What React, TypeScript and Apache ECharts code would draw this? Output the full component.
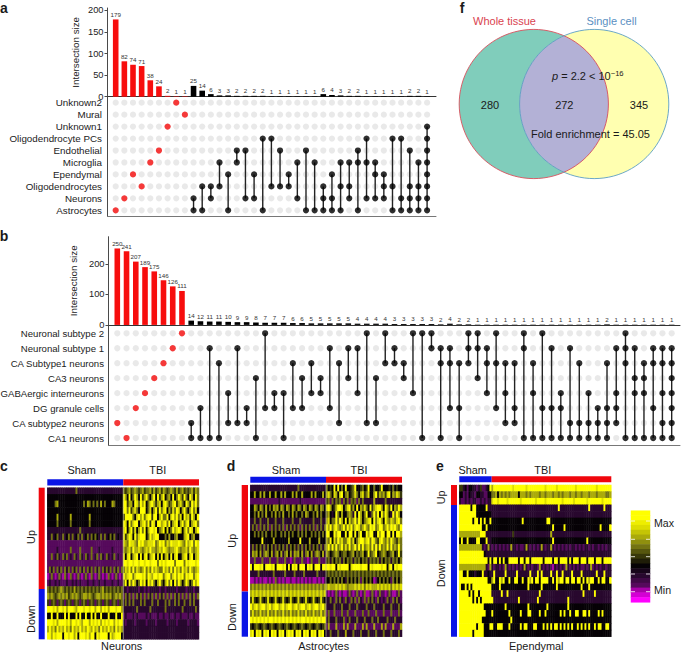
import React, { useEffect, useRef } from "react";
import * as echarts from "echarts";

const FONT = "Liberation Sans";

// ---------- panel a ----------
const rowsA = ["Astrocytes", "Neurons", "Oligodendrocytes", "Ependymal", "Microglia", "Endothelial", "Oligodendrocyte PCs", "Unknown1", "Mural", "Unknown2"];
const sizesA = [179, 82, 74, 71, 38, 24, 2, 1, 1, 25, 14, 6, 3, 3, 2, 2, 2, 2, 1, 1, 1, 1, 1, 1, 6, 4, 3, 2, 2, 1, 1, 1, 1, 1, 2, 2, 1];
const setsA = [[0], [1], [3], [2], [4], [5], [7], [9], [8], [1, 0], [2, 0], [2, 1], [4, 2], [3, 0], [5, 4], [5, 1], [3, 1], [6, 0], [6, 2], [5, 2], [3, 2], [4, 1], [5, 0], [4, 0], [2, 1, 0], [3, 1, 0], [4, 2, 0], [4, 2, 1], [5, 4, 0], [6, 4, 1], [4, 3, 1], [3, 2, 1], [6, 2, 0], [6, 1, 0], [5, 2, 1, 0], [4, 2, 1, 0], [7, 6, 5, 4, 3, 2, 1, 0]];
const singlesA = 9;
const ticksA = [0, 50, 100, 150, 200];

// ---------- panel b ----------
const rowsB = ["CA1 neurons", "CA subtype2 neurons", "DG granule cells", "GABAergic interneurons", "CA3 neurons", "CA Subtype1 neurons", "Neuronal subtype 1", "Neuronal subtype 2"];
const sizesB = [250, 241, 207, 189, 175, 146, 126, 111, 14, 12, 11, 11, 10, 9, 9, 8, 7, 7, 7, 6, 6, 5, 5, 5, 5, 5, 4, 4, 4, 4, 3, 3, 3, 3, 3, 2, 4, 2, 2, 1, 1, 1, 1, 1, 1, 1, 1, 1, 1, 1, 1, 1, 1, 2, 1, 1, 1, 1, 1, 1, 1];
const setsB = [[1], [0], [2], [3], [4], [5], [6], [7], [1, 0], [2, 0], [6, 0], [5, 0], [3, 1], [6, 1], [2, 1], [4, 0], [7, 2], [3, 2], [3, 0], [5, 2], [4, 2], [5, 3], [4, 3], [6, 2], [5, 1], [6, 4], [6, 3], [7, 1], [4, 1], [7, 5], [6, 5], [5, 4], [7, 3], [7, 0], [7, 6], [6, 5, 0], [6, 5, 2], [5, 2, 0], [7, 6, 5], [7, 6, 4], [6, 5, 3], [7, 5, 2], [5, 3, 1], [5, 2, 1], [7, 6, 0], [5, 3, 0], [7, 2, 0], [6, 2, 0], [3, 2, 0], [6, 1, 0], [5, 1, 0], [3, 1, 0], [2, 1, 0], [5, 2, 1, 0], [6, 3, 2, 1], [7, 6, 5, 0], [6, 4, 3, 0], [5, 4, 3, 0], [6, 5, 2, 0], [6, 5, 3, 1, 0], [6, 5, 4, 3, 2, 1, 0]];
const singlesB = 8;
const ticksB = [0, 100, 200];

// ---------- heat maps: one digit per cell, 0 = Min ... 4 = black ... 9 = Max ----------
const heatColors = ["#ff00ff", "#a800a8", "#560a5c", "#28082e", "#060206", "#38380a", "#737312", "#aaaa0a", "#dddd00", "#ffff00"];
const neuronsRows = [
  "3333333333 3333363333 3333333333 3333333333 6567567656 7566757567 5765676575 6756567576",
  "4444444444 4444444444 4444444444 4444444444 9749469749 5796479495 7946749469 7596497496",
  "4444674444 4444444446 4764646474 6444764444 9957749869 7946897578 4897568957 8649759796",
  "4444444444 4444444444 4444444444 4444444444 9969578649 9946847959 6894758698 4796479684",
  "4444474444 4474444444 4474444444 4444444444 5999964897 9689959947 9669489796 8497859749",
  "4444464444 4464444444 4464444444 4444444444 9849689947 8969598499 7896947894 7968947896",
  "3333333333 3333333633 3333333333 3333333333 8947958479 6947998946 7948469789 8479698479",
  "3363463363 4636346363 4636464363 6346463433 9579849689 9946978994 4464744674 4478946744",
  "2222222222 2222222222 2222222222 2222222222 8769887698 9778889679 8968798889 8769789698",
  "2222232222 2262222622 2226222322 2222322222 7678697787 6787977678 7987677897 6778697678",
  "2262363263 6232632632 6326236263 2632362322 9489478949 4894789484 9478494894 4789489478",
  "2222222222 2222222222 2222222222 2222222222 9989989989 9899899969 8989999699 9969899989",
  "2636263626 3626362636 2636263626 3636263626 6879696876 7968697876 6978696978 6978697678",
  "1262126216 2162126212 6216212621 2162126212 9789968999 8969879989 9689968979 8969899689",
  "2322323222 3223232322 2322322322 3222322322 6949697469 7949796479 6479694969 7469746979",
  "6565656765 6565756565 6565656567 5656565656 3323333323 3232333332 3323333323 3332333233",
  "7676567676 7567676567 7676567767 6767567676 2636262636 2626362626 3626262636 2626263626",
  "5256525652 5652565256 5256525652 5652565256 3636363336 3633363363 3363633636 3363363633",
  "9998979989 7999879998 9989979979 8979998997 3333333633 3333633333 3363333333 3633333363",
  "4494494449 4944494944 9449494494 4494449449 2322232322 2232322232 2322322322 3222322322",
  "9998979999 8979989879 9979898979 8989979899 3233332333 3323333233 3332333323 3333233332",
  "7978697879 7869787978 7987978697 8797869787 3333333333 3333333333 3333333333 3333333333",
  "9979899949 9899794999 8979949899 9949789994 3333333333 3333333333 3333333333 3333333333",
];
const astrocytesRows = [
  "3333333333 3333333333 3333363333 3333333333 6454949464 9445694456 4594464459 4445464544",
  "4474474744 7447447474 4474744744 4474744474 7864874894 6745686478 5684479576 7589476875",
  "2222222222 2222232222 2222223222 2222222222 5626365626 3626562636 3333373333 3633333333",
  "4476476474 6476747647 6476476476 4764764764 8974579984 6895749476 8649578997 4975947697",
  "4464746474 4647464744 6474644647 6446474644 6743496474 4676394974 6943696949 6974396974",
  "3363363336 3336333633 3363336333 3336333633 7846696974 9486796974 6789496897 4976876896",
  "3636263636 2636363626 3636362636 3636263636 9796897679 6979689867 9769896799 6797989769",
  "4464646464 4646446464 6464464646 4464646464 9944979944 9499494794 4979944979 9499494997",
  "4444449444 4474444444 7444449444 4744447444 7694869786 6896846899 7896986589 7686976576",
  "3636463636 4636364636 3646363636 4636463636 7969696796 8696796969 6786969696 7696967696",
  "3767473676 4736747367 4737674736 7473676473 7645676456 6456746567 4595679456 7645674595",
  "2262226222 6222622262 2126222622 1262226222 5636465636 4656365646 5636565636 4656365646",
  "9499989499 9894999894 9498949994 9894999499 9989949899 9948999989 9949899998 9948949899",
  "3333633333 3363333363 3336333363 3333363333 5656565656 5656565656 5656565656 5656565656",
  "1121212112 1216212121 1211212121 2121121212 4464646464 3646464626 4646412464 6464264646",
  "6767676767 6767676767 6767676767 6767676767 7877787878 7677787878 6878777878 7878687878",
  "7878787878 7878787878 7878787878 7878787878 2121262121 1262126212 6112621262 2126211262",
  "5854585458 5458545854 5854585458 5458545854 3363263632 6326362632 6263632632 3263263632",
  "9789789978 9789978978 9978978997 8978997897 3333633363 3363336333 3633363333 6333633363",
  "6867686768 6768676867 6867686768 6768676867 2622622262 2622262226 2262226222 6222622262",
  "9898989898 9989898989 8989898998 9898989899 3633363336 2363336333 6333633633 3363336333",
  "5456545654 5654565456 5456545654 5654565456 2722272227 2722272227 2722272227 2722272227",
  "8949894989 4989498948 9894989498 9498949894 3363336333 7333633363 3363336333 6333633363",
];
const ependymalRows = [
  "5534244332 3522349799 9999999989 9999989999 9999989999 9899999999 9899999999 9989999999",
  "4423243324 4332244667 4767676777 7477767677 7767767776 7767677767 7677677767 7767777667",
  "3223232332 2323233899 8999989999 9989999999 8999989999 9999899999 8999999899 9999989999",
  "9999994994 4444933333 3333333333 3333333333 3333333333 3393333333 3333333393 3333339333",
  "9999999994 4444444333 3333333333 3333333333 3333333333 3333333333 3333333333 3333333333",
  "9999999499 4949449444 4444444444 4449444444 4444449944 4444444444 4444444444 4444444444",
  "9999999999 9944944444 4444444444 4444444444 4444444449 4444494444 4444444444 4444944449",
  "7777777777 7999333333 3333333353 3333333333 3333333373 3333333333 3333333333 3333333333",
  "4944944449 9444933444 4444444444 4444444444 4444444449 4444444444 4444444944 4444444444",
  "7777777777 7732373232 3232323733 2322373232 3237323373 2323232323 3232323323 2332323233",
  "9999999999 9994333333 3333333333 3333333333 3333333333 3333333333 3333333333 3333333333",
  "9999999999 9999949499 4949449999 9499499499 9999499994 9949999494 9994999499 9499949999",
  "7777777777 7777327323 3232732323 2323732323 3273232321 3232327323 2323223237 2323233233",
  "9944944434 4493343393 3333933333 9333333933 3939333393 3933933339 3333933333 3393339333",
  "9999999999 9999944794 4979449449 9449449794 9949999449 4979949949 9499494979 9449499449",
  "9449494999 9999999444 4944444444 4444449444 4449444444 4944444444 4444944494 4444444444",
  "9999949499 4999999333 3393393333 3333333333 3393333333 3333333333 3333393333 3933333333",
  "9999999494 9499999933 3333333333 3933333333 3933333333 3333333933 3333333333 3333333333",
  "9999999999 9994444444 4444944444 4444449444 4444449444 4444444944 4444444444 4444444444",
  "9999999999 9999444944 4444449444 4494449944 4494494444 4449494494 4994499494 4449494444",
  "9999999999 9944444444 4444444944 4444444444 4444444444 4444444444 4444444444 4444444444",
  "9999999994 9994449944 9994449444 4494994449 9444949494 9949494949 4494949494 4949944994",
  "9999999499 9994444444 4444444444 4444444444 4444444444 4444444444 4444444444 4444444444",
];
const legendLevels = [9, 9, 8.5, 8, 7.5, 7, 6.5, 6, 5.5, 5, 4.5, 4, 3.5, 3, 2.5, 2, 1, 0.5, 0];
const legendLabels = ["", "", "Max", "", "", "", "", "", "", "", "", "", "", "", "", "", "Min", "", ""];

const vennNumbers = ["280", "272", "345"];

type Txt = { align?: string; bold?: boolean; fill?: string; size?: number };
const txt = (x: number, y: number, text: string, o: Txt = {}) => ({
  type: "text",
  x,
  y,
  z: 50,
  silent: true,
  style: {
    text,
    fill: o.fill || "#1a1a1a",
    font: `${o.bold ? "bold " : ""}${o.size || 10.9}px "${FONT}"`,
    textAlign: o.align || "center",
    align: o.align || "center",
    textVerticalAlign: "middle",
    verticalAlign: "middle",
  },
});
const strip = (x: number, y: number, width: number, height: number, fill: string) => ({
  type: "rect",
  z: 40,
  silent: true,
  shape: { x, y, width, height },
  style: { fill },
});
const BLUE = "#0a14e6";
const RED = "#f0060c";

const seams = (rows: string[]) => rows.map((r) => r.replace(/ /g, ""));
const heatData = (rows: string[]) =>
  seams(rows).flatMap((r, y) => [...r].map((ch, x) => [x, y, Number(ch)]));
const idx = (n: number) => Array.from({ length: n }, (_, i) => String(i));

function upset(
  gi: number,
  sizes: number[],
  sets: number[][],
  rows: string[],
  singles: number,
  ticks: number[],
  cfg: { xMin: number; xMax: number; left: number; width: number; barTop: number; barH: number; yMax: number; matTop: number; matH: number; barW: number; nameGap: number; labelMargin: number; labelSize: number }
) {
  const AX = "#4a4a4a";
  const grid = [
    { left: cfg.left, width: cfg.width, top: cfg.barTop, height: cfg.barH, outerBoundsMode: "none" },
    { left: cfg.left, width: cfg.width, top: cfg.matTop, height: cfg.matH, outerBoundsMode: "none" },
  ];
  const xBase = { type: "value", min: cfg.xMin, max: cfg.xMax, axisTick: { show: false }, axisLabel: { show: false }, splitLine: { show: false } };
  const xAxis = [
    { ...xBase, gridIndex: gi, axisLine: { show: true, onZero: false, lineStyle: { color: "#333", width: 1 } } },
    { ...xBase, gridIndex: gi + 1, axisLine: { show: true, onZero: false, lineStyle: { color: "#777", width: 1 } } },
  ];
  const yAxis = [
    {
      gridIndex: gi,
      type: "value",
      min: 0,
      max: cfg.yMax,
      name: "Intersection size",
      nameLocation: "middle",
      nameGap: cfg.nameGap,
      nameTextStyle: { fontFamily: FONT, fontSize: 9.8, color: "#222" },
      axisLine: { show: true, onZero: false, lineStyle: { color: AX, width: 1 } },
      axisTick: { show: true, length: 3, lineStyle: { color: AX }, customValues: ticks },
      axisLabel: { fontFamily: FONT, fontSize: 9.3, color: "#222", margin: 4, customValues: ticks },
      splitLine: { show: false },
    },
    {
      gridIndex: gi + 1,
      type: "category",
      data: rows,
      axisLine: { show: true, onZero: false, lineStyle: { color: AX, width: 1 } },
      axisTick: { show: false },
      axisLabel: { fontFamily: FONT, fontSize: cfg.labelSize, color: "#222", margin: cfg.labelMargin, interval: 0 },
      splitLine: { show: false },
    },
  ];
  const grey: number[][] = [];
  rows.forEach((_, r) => sizes.forEach((_, c) => grey.push([c, r])));
  const red: number[][] = [];
  const black: number[][] = [];
  const links: number[][] = [];
  sets.forEach((s, c) => {
    s.forEach((r) => (c < singles ? red : black).push([c, r]));
    if (s.length > 1) links.push([c, Math.min(...s), Math.max(...s)]);
  });
  const series = [
    {
      type: "bar",
      xAxisIndex: gi,
      yAxisIndex: gi,
      barWidth: cfg.barW,
      data: sizes.map((v, c) => ({ value: [c, v], itemStyle: { color: c < singles ? "#f70d0d" : "#000" } })),
      label: { show: true, position: "top", distance: 2, fontFamily: FONT, fontSize: 6.2, color: "#333", formatter: (p: any) => String(p.value[1]) },
    },
    { type: "scatter", xAxisIndex: gi + 1, yAxisIndex: gi + 1, symbolSize: 6.2, itemStyle: { color: "#e4e4e4" }, data: grey, silent: true, z: 1 },
    {
      type: "custom",
      xAxisIndex: gi + 1,
      yAxisIndex: gi + 1,
      z: 2,
      silent: true,
      encode: { x: 0, y: [1, 2] },
      data: links,
      renderItem: (_: any, api: any) => {
        const a = api.coord([api.value(0), api.value(1)]);
        const b = api.coord([api.value(0), api.value(2)]);
        return { type: "line", shape: { x1: a[0], y1: a[1], x2: b[0], y2: b[1] }, style: { stroke: "#222", lineWidth: 1.4 } };
      },
    },
    { type: "scatter", xAxisIndex: gi + 1, yAxisIndex: gi + 1, symbolSize: 6.2, itemStyle: { color: "#000" }, data: black, silent: true, z: 3 },
    { type: "scatter", xAxisIndex: gi + 1, yAxisIndex: gi + 1, symbolSize: 6.2, itemStyle: { color: "#f70d0d" }, data: red, silent: true, z: 3 },
  ];
  return { grid, xAxis, yAxis, series };
}

function heat(gi: number, rows: string[], left: number, top: number, width: number, height: number) {
  const clean = seams(rows);
  return {
    grid: { left, top, width, height, outerBoundsMode: "none" },
    xAxis: { gridIndex: gi, type: "category", data: idx(clean[0].length), show: false },
    yAxis: { gridIndex: gi, type: "category", inverse: true, data: idx(clean.length), show: false },
    series: { type: "heatmap", xAxisIndex: gi, yAxisIndex: gi, data: heatData(rows), silent: true },
  };
}

export default function App() {
  const ref = useRef<HTMLDivElement>(null);
  useEffect(() => {
    document.body.style.margin = "0";
    document.body.style.background = "#fff";
    const chart = echarts.init(ref.current!, undefined, { renderer: "svg", width: 682, height: 652 });

    const lens = "M 564 35.7 A 74.6 74.6 0 0 1 564 172.3 A 74.6 74.6 0 0 1 564 35.7 Z";
    echarts.graphic.registerShape("vennLens", echarts.graphic.extendPath(lens, {}));

    const a = upset(0, sizesA, setsA, rowsA, singlesA, ticksA, { xMin: -0.948, xMax: 37.03, left: 107.5, width: 328.5, barTop: 8, barH: 88.7, yMax: 205.5, matTop: 96.7, matH: 119.6, barW: 5.6, nameGap: 27, labelMargin: 5.5, labelSize: 9.8 });
    const b = upset(2, sizesB, setsB, rowsB, singlesB, ticksB, { xMin: -0.952, xMax: 60.9, left: 108.5, width: 571.5, barTop: 236.7, barH: 88.2, yMax: 288.5, matTop: 325.8, matH: 119.7, barW: 5.6, nameGap: 27, labelMargin: 4.5, labelSize: 9.6 });
    const c = heat(4, neuronsRows, 47.3, 487.7, 151.7, 151.6);
    const d = heat(5, astrocytesRows, 250.3, 485, 151.7, 151.7);
    const e = heat(6, ependymalRows, 459.3, 485, 152, 151.7);
    const legendGrid = { left: 631, top: 510.7, width: 19, height: 91.6, outerBoundsMode: "none" };

    const heatSeries = [c.series, d.series, e.series];
    const legendSeries = {
      type: "heatmap",
      xAxisIndex: 7,
      yAxisIndex: 7,
      silent: true,
      data: legendLevels.map((v, i) => [0, i, v]),
    };
    const series: any[] = [...a.series, ...b.series, ...heatSeries, legendSeries];
    const first = a.series.length + b.series.length;
    const heatIdx = [first, first + 1, first + 2, first + 3];

    const legendTicks = [521, 539.3, 556.7, 574, 591.7];

    const graphic: any[] = [
      txt(4, 8, "a", { bold: true, size: 14 }),
      txt(4, 236, "b", { bold: true, size: 14 }),
      txt(4, 466, "c", { bold: true, size: 14 }),
      txt(231, 466, "d", { bold: true, size: 14 }),
      txt(440, 466, "e", { bold: true, size: 14 }),
      txt(462, 8, "f", { bold: true, size: 14 }),
      // venn
      { type: "circle", z: 10, silent: true, shape: { cx: 533.8, cy: 104, r: 74.6 }, style: { fill: "#80cdbb" } },
      { type: "circle", z: 11, silent: true, shape: { cx: 594.2, cy: 104, r: 74.6 }, style: { fill: "#ffffb0" } },
      { type: "vennLens", z: 12, silent: true, x: 0, y: 0, style: { fill: "#b3b1d6" } },
      { type: "circle", z: 13, silent: true, shape: { cx: 533.8, cy: 104, r: 74.6 }, style: { fill: "none", stroke: "#d9505c", lineWidth: 0.9 } },
      { type: "circle", z: 14, silent: true, shape: { cx: 594.2, cy: 104, r: 74.6 }, style: { fill: "none", stroke: "#5b9ec4", lineWidth: 0.9 } },
      txt(504.5, 21, "Whole tissue", { fill: "#d9434f", size: 11 }),
      txt(611.5, 20.5, "Single cell", { fill: "#5a8fc2", size: 11 }),
      txt(490, 105, vennNumbers[0], { size: 11 }),
      txt(564.3, 105, vennNumbers[1], { size: 11 }),
      txt(639, 105, vennNumbers[2], { size: 11 }),
      txt(590.5, 133.5, "Fold enrichment = 45.05", { size: 11 }),
      {
        type: "text",
        x: 552,
        y: 76,
        z: 50,
        silent: true,
        style: {
          text: "{i|p} = 2.2 < 10{s|−16}",
          fill: "#1a1a1a",
          font: `11px "${FONT}"`,
          align: "left",
          textAlign: "left",
          verticalAlign: "middle",
          textVerticalAlign: "middle",
          rich: {
            i: { font: `italic 11px "${FONT}"`, fill: "#1a1a1a" },
            s: { font: `7.6px "${FONT}"`, fill: "#1a1a1a", verticalAlign: "top", padding: [0, 0, 5, 0] },
          },
        },
      },
      // heat-map texts
      txt(81.7, 470, "Sham"),
      txt(157.7, 470, "TBI"),
      txt(286, 470, "Sham"),
      txt(359, 470, "TBI"),
      txt(472.7, 470, "Sham"),
      txt(542.7, 470, "TBI"),
      txt(121.7, 645.7, "Neurons"),
      txt(323.7, 645.7, "Astrocytes"),
      txt(536.3, 645.7, "Ependymal"),
      { ...txt(31, 537, "Up"), rotation: Math.PI / 2 },
      { ...txt(31, 619, "Down"), rotation: Math.PI / 2 },
      { ...txt(231.7, 540.7, "Up"), rotation: Math.PI / 2 },
      { ...txt(231.7, 617, "Down"), rotation: Math.PI / 2 },
      { ...txt(441, 497.3, "Up"), rotation: Math.PI / 2 },
      { ...txt(441, 573.3, "Down"), rotation: Math.PI / 2 },
      // group strips
      strip(47.3, 479.3, 76, 6.3, BLUE),
      strip(123.3, 479.3, 75.7, 6.3, RED),
      strip(38.7, 487.7, 6, 101.3, RED),
      strip(38.7, 589, 6, 50.3, BLUE),
      strip(250.3, 476.7, 75.7, 6, BLUE),
      strip(326, 476.7, 76, 6, RED),
      strip(241.7, 485, 6.3, 106.5, RED),
      strip(241.7, 591.5, 6.3, 45.2, BLUE),
      strip(459.3, 476.3, 32.4, 6, BLUE),
      strip(491.7, 476.3, 119.6, 6, RED),
      strip(451, 485, 6, 20, RED),
      strip(451, 505, 6, 131.7, BLUE),
      // pale seams between groups
      { type: "line", z: 41, silent: true, shape: { x1: 123.3, y1: 487.7, x2: 123.3, y2: 639.3 }, style: { stroke: "#b9b9a0", lineWidth: 0.7 } },
      { type: "line", z: 41, silent: true, shape: { x1: 326, y1: 485, x2: 326, y2: 636.7 }, style: { stroke: "#b9b9a0", lineWidth: 0.7 } },
      // legend tick marks
      ...legendTicks.flatMap((y) => [
        { type: "line", z: 41, silent: true, shape: { x1: 631, y1: y, x2: 635, y2: y }, style: { stroke: "#fff", lineWidth: 0.8 } },
        { type: "line", z: 41, silent: true, shape: { x1: 646, y1: y, x2: 650, y2: y }, style: { stroke: "#fff", lineWidth: 0.8 } },
      ]),
    ];

    chart.setOption({
      animation: false,
      textStyle: { fontFamily: FONT },
      grid: [...a.grid, ...b.grid, c.grid, d.grid, e.grid, legendGrid],
      xAxis: [...a.xAxis, ...b.xAxis, c.xAxis, d.xAxis, e.xAxis, { gridIndex: 7, type: "category", data: ["0"], show: false }],
      yAxis: [
        ...a.yAxis,
        ...b.yAxis,
        c.yAxis,
        d.yAxis,
        e.yAxis,
        {
          gridIndex: 7,
          type: "category",
          inverse: true,
          position: "right",
          data: legendLabels,
          axisLine: { show: false },
          axisTick: { show: false },
          axisLabel: { interval: 0, fontFamily: FONT, fontSize: 10.6, color: "#1a1a1a", margin: 4 },
        },
      ],
      visualMap: { show: false, type: "continuous", seriesIndex: heatIdx, min: 0, max: 9, inRange: { color: heatColors } },
      series,
      graphic,
    });
    return () => chart.dispose();
  }, []);
  return <div ref={ref} style={{ width: 682, height: 652 }} />;
}
